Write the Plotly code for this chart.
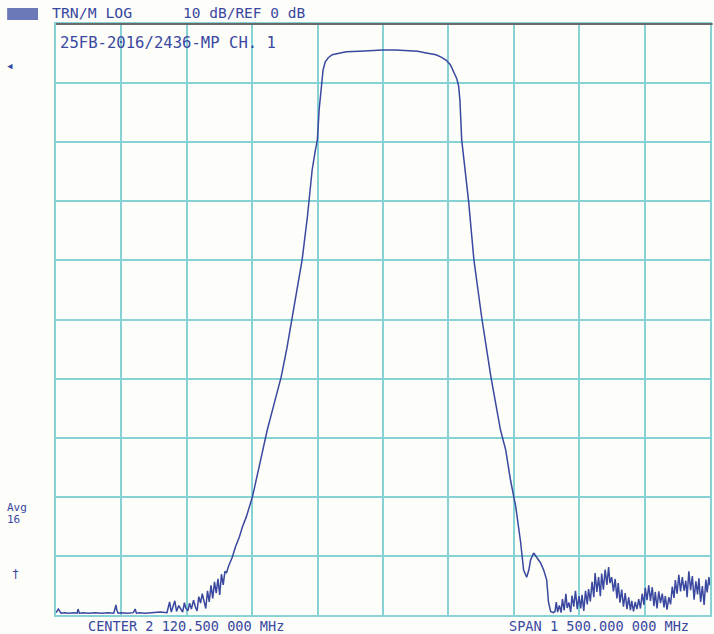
import plotly.graph_objects as go

# Frequency axis: center 2120.5 MHz, span 1500 MHz
center_mhz = 2120.5
span_mhz = 1500.0
f_start = center_mhz - span_mhz / 2
f_stop = center_mhz + span_mhz / 2

freq_mhz = [
    1370.5, 1376, 1382, 1390, 1400, 1412, 1419, 1421, 1424, 1432, 1445, 1460, 1475, 1490,
    1503, 1508, 1510, 1513, 1520, 1535, 1548, 1552, 1555, 1562, 1575, 1590, 1600, 1610, 1625,
    1631, 1635, 1640, 1643, 1647, 1652, 1656, 1661, 1665, 1668, 1673, 1677, 1681, 1686, 1690,
    1694, 1698, 1702, 1706, 1710, 1714, 1718, 1722, 1726, 1730, 1734, 1738, 1742, 1746, 1750,
    1754, 1758, 1761.5, 1766, 1771, 1775, 1782, 1791, 1798, 1807, 1814, 1821, 1838, 1855,
    1871, 1887, 1900, 1912, 1924, 1935, 1947, 1958, 1965, 1970, 1974, 1979, 1983, 1988, 1995,
    2004, 2020, 2036, 2066, 2090, 2120, 2150, 2180, 2200, 2220, 2242, 2254, 2265, 2275, 2283,
    2290, 2294, 2297, 2301, 2309, 2317, 2329, 2347, 2368, 2390, 2402, 2413, 2425, 2436, 2443,
    2450, 2455, 2459, 2466, 2473, 2478, 2482, 2489, 2496, 2500, 2505, 2511, 2515,
    2518, 2521, 2525, 2529, 2532, 2536, 2540, 2543, 2547, 2551, 2554, 2558, 2562, 2566, 2570,
    2574, 2577, 2581, 2585, 2589, 2592, 2596, 2600, 2604, 2607, 2611, 2615, 2619, 2622, 2626,
    2630, 2634, 2638, 2641, 2645, 2649, 2653, 2657, 2660, 2664, 2668, 2672, 2676, 2680, 2684,
    2688, 2691, 2695, 2699, 2703, 2707, 2711, 2715, 2719, 2722, 2726, 2730, 2734, 2738, 2742,
    2745, 2749, 2753, 2757, 2761, 2765, 2768, 2772, 2776, 2780, 2784, 2788, 2791, 2795, 2799,
    2803, 2807, 2811, 2815, 2818, 2822, 2826, 2830, 2834, 2838, 2842, 2845, 2849, 2853, 2857,
    2861, 2864, 2868, 2870.5,
]

level_db = [
    -99.6, -99.0, -99.7, -99.6, -99.7, -99.6, -99.7, -99.0, -99.7, -99.6, -99.7, -99.6, -99.7, -99.6,
    -99.7, -98.3, -99.2, -99.7, -99.6, -99.7, -99.6, -99.0, -99.7, -99.6, -99.7, -99.6, -99.6, -99.5, -99.6,
    -97.8, -99.5, -98.2, -97.6, -99.4, -98.4, -98.9, -99.5, -97.9, -98.8, -99.3, -98.0, -99.0, -97.5, -98.6,
    -99.3, -96.9, -98.0, -96.4, -97.6, -98.9, -95.9, -97.8, -95.0, -97.2, -94.4, -96.3, -93.9, -96.6, -93.1,
    -94.9, -92.6, -92.9, -91.8, -91.0, -90.2, -88.5, -86.8, -85.1, -83.4, -81.7, -80.0, -74.4, -68.7,
    -64.2, -59.7, -54.9, -49.6, -44.8, -39.9, -32.7, -24.7, -21.5, -19.6, -14.5, -10.0, -7.8, -6.4, -5.7,
    -5.2, -4.9, -4.7, -4.6, -4.5, -4.4, -4.4, -4.5, -4.6, -4.9, -5.2, -5.6, -6.1, -6.9, -8.1,
    -9.3, -10.5, -13.0, -19.6, -24.9, -30.1, -39.9, -49.7, -59.7, -68.7, -72.1, -77.2, -81.7, -87.6, -92.4,
    -93.6, -92.4, -90.7, -89.5, -90.2, -90.8, -91.2, -92.4, -94.1, -97.8, -99.4, -99.6, -99.4,
    -97.8, -99.5, -98.4, -99.6, -97.3, -99.2, -96.4, -98.8, -97.9, -99.5, -96.7, -98.6, -95.9, -99.0, -96.8,
    -98.9, -96.6, -99.3, -95.9, -98.2, -95.6, -97.7, -94.4, -97.0, -92.9, -96.1, -93.6, -96.8, -93.0, -95.7,
    -92.3, -94.9, -91.9, -94.6, -93.6, -96.0, -93.9, -97.2, -94.6, -97.9, -95.7, -98.6, -96.3, -99.0, -97.0,
    -99.2, -97.6, -99.4, -97.8, -99.0, -97.3, -98.9, -96.4, -98.3, -95.4, -97.5, -95.0, -97.6, -95.3, -98.5,
    -96.1, -98.9, -96.0, -98.0, -96.4, -98.7, -96.8, -99.1, -97.0, -98.2, -95.2, -97.1, -94.1, -96.4, -93.2,
    -96.0, -93.6, -95.9, -94.2, -97.0, -92.6, -95.8, -93.4, -97.4, -94.3, -96.5, -93.8, -97.8, -95.1, -98.3,
    -94.0, -96.2, -93.6, -95.0,
]

header_left = "TRN/M LOG"
header_scale = "10 dB/REF 0 dB"
trace_title = "25FB-2016/2436-MP CH. 1"
center_label = "CENTER 2 120.500 000 MHz"
span_label = "SPAN 1 500.000 000 MHz"
avg_label = "Avg"
avg_count = "16"

ink = "#3a48a0"
grid = "#86d2d5"
mono = "DejaVu Sans Mono"

fig = go.Figure()
fig.add_trace(go.Scatter(
    x=freq_mhz, y=level_db, mode="lines",
    line=dict(color=ink, width=1.5),
    hoverinfo="skip", showlegend=False,
))

W, H = 714, 634
L, R, T, B = 56, 2, 24, 19
pw, ph = W - L - R, H - T - B


def px(x):
    return (x - L) / pw


def py(y):
    return (H - B - y) / ph


ann = []


def text(s, x, y, size=14, color=ink, anchor="left"):
    ann.append(dict(text=s, x=px(x), y=py(y), xref="paper", yref="paper",
                    xanchor=anchor, yanchor="middle", showarrow=False,
                    font=dict(family=mono, size=size, color=color)))


text(header_left, 50, 13, 14.8)
text(header_scale, 181, 13, 14.5)
text(trace_title, 58, 43, 15.6)
text(center_label, 86, 626, 13.6)
text(span_label, 508, 626, 13.6)
text(avg_label, 5, 507, 11)
text(avg_count, 5, 519, 11)
text("†", 10, 574, 12)
text("◂", 4, 65, 13)

shapes = [
    dict(type="rect", xref="paper", yref="paper", x0=px(7), x1=px(38), y0=py(20), y1=py(8),
         fillcolor="#6c79b9", line=dict(width=0), layer="above"),
    dict(type="line", xref="paper", yref="paper", x0=0, x1=1.004, y0=py(24), y1=py(24),
         line=dict(color="#6a6a6a", width=2), layer="above"),
]

fig.update_layout(
    width=W, height=H,
    margin=dict(l=L, r=R, t=T, b=B, pad=0),
    paper_bgcolor="#fdfdfa", plot_bgcolor="#fdfdfa",
    annotations=ann, shapes=shapes,
    xaxis=dict(range=[f_start, f_stop], tick0=f_start, dtick=span_mhz / 10,
               showticklabels=False, ticks="", showgrid=True, gridcolor=grid, gridwidth=2,
               zeroline=False, showline=True, linecolor=grid, linewidth=2, mirror=True),
    yaxis=dict(range=[-100, 0], tick0=0, dtick=10,
               showticklabels=False, ticks="", showgrid=True, gridcolor=grid, gridwidth=2,
               zeroline=False, showline=True, linecolor=grid, linewidth=2, mirror=True),
)

fig.write_html("out.html")
